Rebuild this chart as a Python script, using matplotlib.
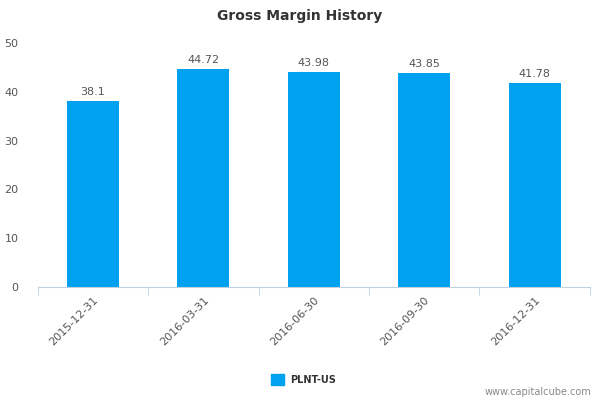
import matplotlib
matplotlib.use("Agg")
import matplotlib.pyplot as plt
import numpy as np

categories = ["2015-12-31", "2016-03-31", "2016-06-30", "2016-09-30", "2016-12-31"]
values = [38.1, 44.72, 43.98, 43.85, 41.78]
labels = ["38.1", "44.72", "43.98", "43.85", "41.78"]
yticks = [0, 10, 20, 30, 40, 50]

fig = plt.figure(figsize=(6, 4), dpi=100)
ax = fig.add_axes([0.063, 0.2825, 0.92, 0.61])
x = np.arange(len(categories))
ax.bar(x, values, width=0.47, color="#00a2f0", zorder=2)
for xi, v, l in zip(x, values, labels):
    ax.text(xi, v + 0.8, l, ha="center", va="bottom", fontsize=8, color="#555555")
ax.set_xlim(-0.5, 4.5)
ax.set_ylim(0, 50)
ax.set_yticks(yticks)
ax.set_yticklabels([str(t) for t in yticks], fontsize=8, color="#555555")
ax.tick_params(axis="y", length=0, pad=14)
ax.set_xticks(x)
ax.set_xticklabels(categories, rotation=45, ha="right", rotation_mode="anchor", fontsize=8, color="#555555")
ax.tick_params(axis="x", length=0, pad=6)
ax.set_xticks(np.arange(-0.5, 5, 1), minor=True)
ax.tick_params(axis="x", which="minor", length=6, color="#c0d0e0")
for s in ["top", "right", "left"]:
    ax.spines[s].set_visible(False)
ax.spines["bottom"].set_color("#c0d0e0")
fig.text(0.5, 0.96, "Gross Margin History", ha="center", va="center", fontsize=10, fontweight="bold", color="#333333")
fig.patches.append(plt.Rectangle((0.452, 0.037), 0.022, 0.027, transform=fig.transFigure, color="#00a2f0"))
fig.text(0.483, 0.05, "PLNT-US", ha="left", va="center", fontsize=7, fontweight="bold", color="#333333")
fig.text(0.985, 0.02, "www.capitalcube.com", ha="right", va="center", fontsize=7, color="#888888")
fig.savefig("out.png")
